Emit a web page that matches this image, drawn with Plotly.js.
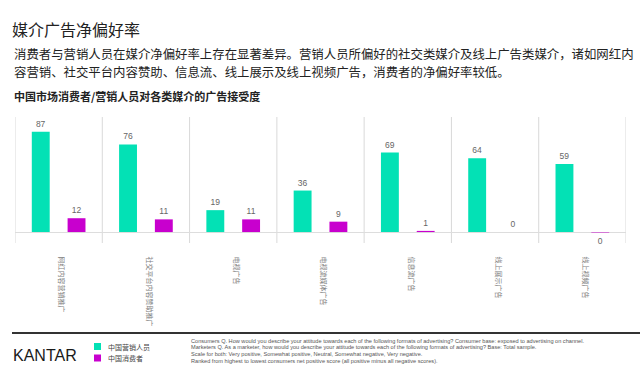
<!DOCTYPE html>
<html>
<head>
<meta charset="utf-8">
<script src="https://cdn.plot.ly/plotly-3.0.1.min.js"></script>
<style>html,body{margin:0;padding:0;background:#fff;}#chart{width:643px;height:371px;}</style>
</head>
<body>
<div id="chart"></div>
<script>
// ---- data ----
const categories = ['网红内容营销推广','社交平台内容赞助推广','电视广告','电视流媒体广告','信息流广告','线上展示广告','线上视频广告'];
const marketers = [87, 76, 19, 36, 69, 64, 59];
const consumers = [12, 11, 11, 9, 1, 0, -0.4];
const marketerLabels = ['87','76','19','36','69','64','59'];
const consumerLabels = ['12','11','11','9','1','0','0'];
const seriesNames = ['中国营销人员','中国消费者'];
const colors = ['#03E1B5','#C800CE'];
const introLines = [
  '消费者与营销人员在媒介净偏好率上存在显著差异。营销人员所偏好的社交类媒介及线上广告类媒介，诸如网红内',
  '容营销、社交平台内容赞助、信息流、线上展示及线上视频广告，消费者的净偏好率较低。'
];
const footnotes = [
  'Consumers Q. How would you describe your attitude towards each of the following formats of advertising? Consumer base: exposed to advertising on channel.',
  'Marketers Q. As a marketer, how would you describe your attitude towards each of the following formats of advertising? Base: Total sample.',
  'Scale for both: Very positive, Somewhat positive, Neutral, Somewhat negative, Very negative.',
  'Ranked from highest to lowest consumers net positive score (all positive minus all negative scores).'
];

// ---- layout helpers (pixel -> paper) ----
const W = 643, H = 371, L = 15, R = 17, T = 117, B = 128;
const PW = W - L - R, PH = H - T - B;
const px = x => (x - L) / PW;
const py = y => (H - B - y) / PH;
const CJK = '"Noto Sans CJK SC", "Noto Sans", sans-serif';
const LAT = '"Liberation Sans", Arial, sans-serif';

const traces = [
  {type:'bar', name:seriesNames[0], x:categories, y:marketers, text:marketerLabels,
   textposition:'outside', cliponaxis:false, marker:{color:colors[0]},
   textfont:{family:LAT, size:8.5, color:'#666'}, showlegend:false},
  {type:'bar', name:seriesNames[1], x:categories, y:consumers, text:consumerLabels,
   textposition:'outside', cliponaxis:false, marker:{color:colors[1]},
   textfont:{family:LAT, size:8.5, color:'#666'}, showlegend:false}
];

const ann = [];
const introY = [53.5, 71.7];
introLines.forEach((t,i) => ann.push({text:t, x:px(12), y:py(introY[i]), xref:'paper', yref:'paper', xanchor:'left', yanchor:'middle', align:'left', showarrow:false, font:{family:CJK, size:12.4, color:'#222'}}));
ann.push({text:'<b>中国市场消费者/营销人员对各类媒介的广告接受度</b>', x:px(12), y:py(96), xref:'paper', yref:'paper', xanchor:'left', yanchor:'middle', showarrow:false, font:{family:CJK, size:11, color:'#222'}});
ann.push({text:'KANTAR', x:px(11), y:py(355), xref:'paper', yref:'paper', xanchor:'left', yanchor:'middle', showarrow:false, font:{family:LAT, size:16, color:'#1a1a1a'}});
const legY = [346.5, 358];
seriesNames.forEach((n,i) => ann.push({text:n, x:px(106), y:py(legY[i]), xref:'paper', yref:'paper', xanchor:'left', yanchor:'middle', showarrow:false, font:{family:CJK, size:7, color:'#444'}}));
const footY = [340.5, 347.2, 353.9, 360.6];
footnotes.forEach((t,i) => ann.push({text:t, x:px(189), y:py(footY[i]), xref:'paper', yref:'paper', xanchor:'left', yanchor:'middle', align:'left', showarrow:false, font:{family:LAT, size:5.6, color:'#555'}}));

const shapes = [
  {type:'line', xref:'paper', yref:'paper', x0:px(12), x1:px(640), y0:py(333), y1:py(333), line:{color:'#333', width:2}}
];
seriesNames.forEach((n,i) => shapes.push({type:'rect', xref:'paper', yref:'paper', x0:px(94), x1:px(101), y0:py(legY[i]-3.5), y1:py(legY[i]+3.5), fillcolor:colors[i], line:{width:0}}));
// category separators, including both edges
categories.concat(['']).forEach((c,i) => shapes.push({type:'line', xref:'x', yref:'paper', x0:i-0.5, x1:i-0.5, y0:0, y1:1, line:{color:'#d9d9d9', width:1}, layer:'below'}));

const layout = {
  width:W, height:H,
  margin:{l:L, r:R, t:T, b:B},
  paper_bgcolor:'#fff', plot_bgcolor:'#fff',
  title:{text:'媒介广告净偏好率', x:12/W, xref:'container', xanchor:'left', y:1-30/H, yref:'container', yanchor:'middle', font:{family:CJK, size:16, color:'#222'}},
  barmode:'group', bargap:0.18, bargroupgap:0.5,
  xaxis:{type:'category', range:[-0.5, categories.length-0.5], showgrid:false, zeroline:false, showline:false,
         ticks:'outside', ticklen:11, tickcolor:'rgba(0,0,0,0)', tickangle:90, ticklabelshift:3,
         tickfont:{family:CJK, size:7, color:'#808080'}, automargin:false, fixedrange:true},
  yaxis:{range:[-9.5, 99.8], showgrid:false, showticklabels:false, ticks:'', zeroline:true, zerolinecolor:'#dddddd', zerolinewidth:1, showline:false, automargin:false, fixedrange:true},
  annotations:ann,
  shapes:shapes,
  showlegend:false,
  font:{family:CJK}
};

Plotly.newPlot('chart', traces, layout, {displayModeBar:false, staticPlot:true});
</script>
</body>
</html>
